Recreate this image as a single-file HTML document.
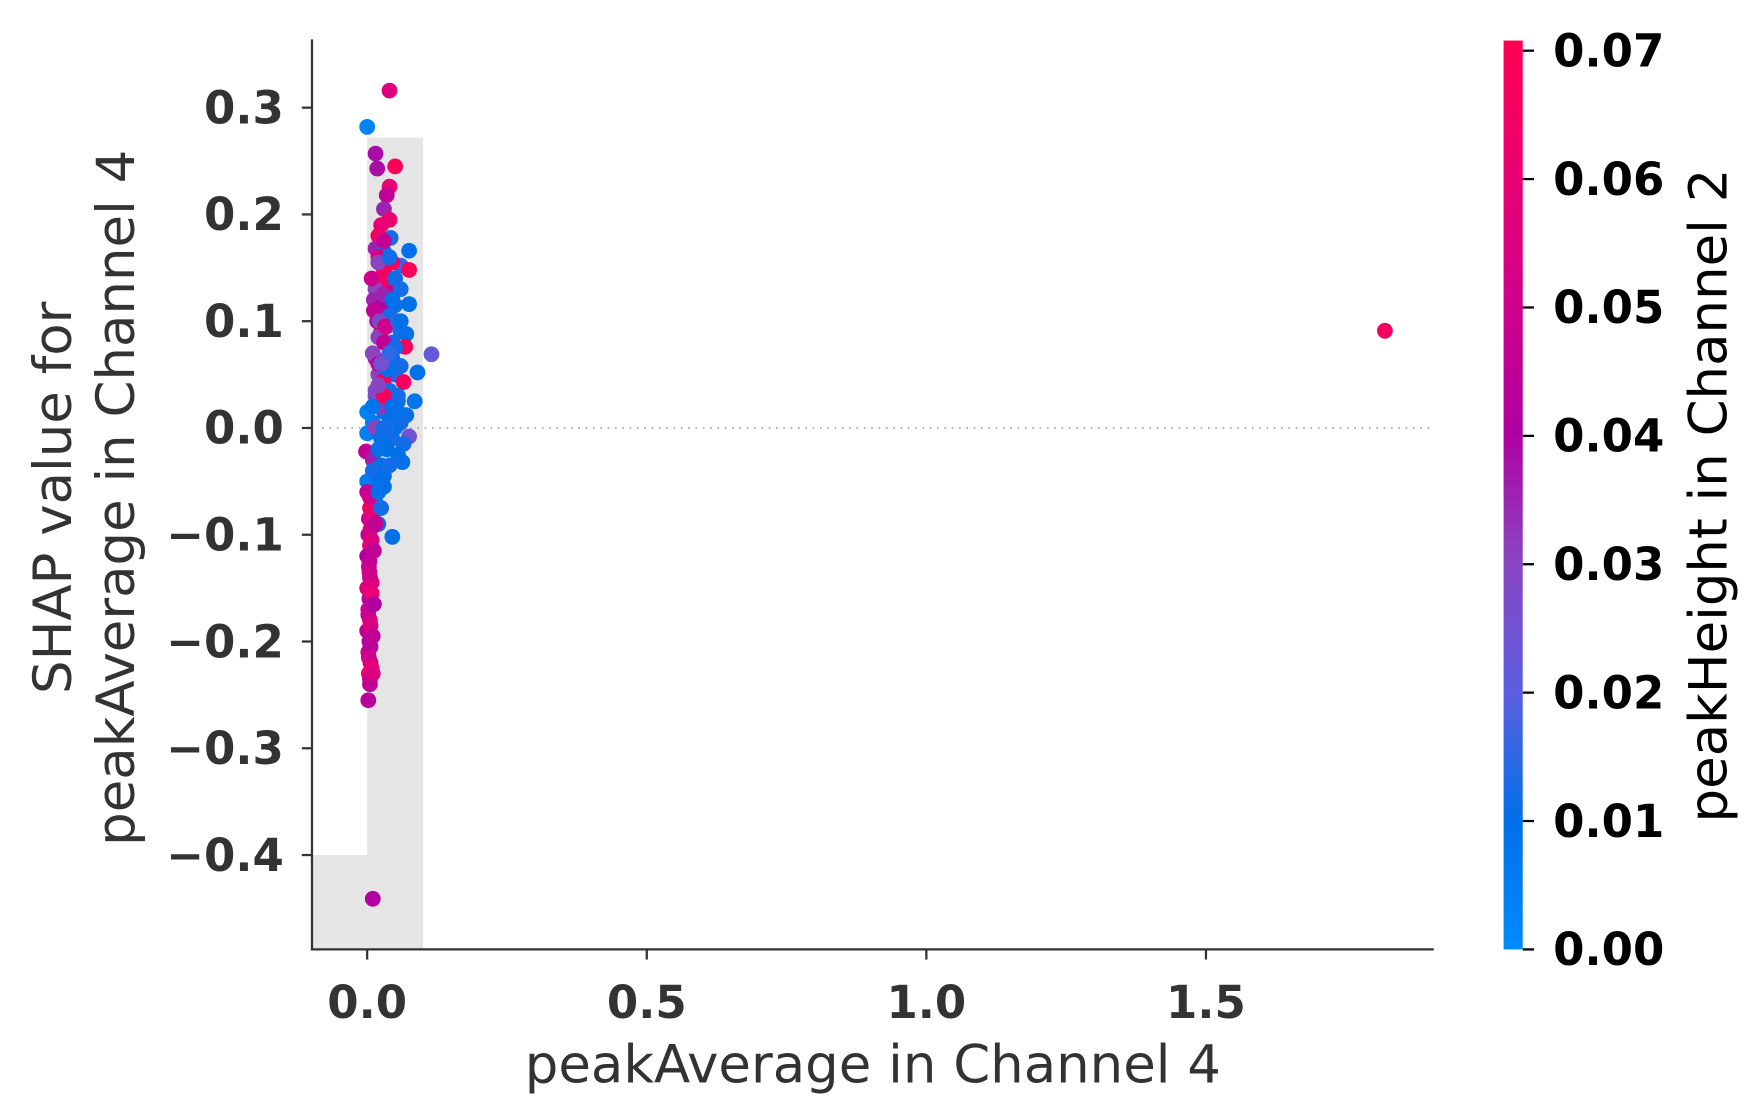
<!DOCTYPE html>
<html><head><meta charset="utf-8"><style>
html,body{margin:0;padding:0;background:#fff;}
svg{display:block;font-family:"DejaVu Sans","Liberation Sans",sans-serif;}
</style></head><body>
<svg id="chart" width="1757" height="1117" viewBox="0 0 1560 991.8" preserveAspectRatio="none" xmlns="http://www.w3.org/2000/svg">
<defs>
<linearGradient id="cmap" x1="0" y1="1" x2="0" y2="0">
<stop offset="0" stop-color="#008bfb"/>
<stop offset="0.14" stop-color="#0070e8"/>
<stop offset="0.28" stop-color="#5a5fe0"/>
<stop offset="0.43" stop-color="#8a44c0"/>
<stop offset="0.57" stop-color="#b000a0"/>
<stop offset="0.71" stop-color="#d0008c"/>
<stop offset="0.86" stop-color="#ea0070"/>
<stop offset="1" stop-color="#ff0052"/>
</linearGradient>
</defs>
<g id="hist"></g>
<line x1="286" y1="380" x2="1273" y2="380" stroke="#999" stroke-width="1.3" stroke-dasharray="1.5,5"/>
<g id="points"></g>
<line x1="277" y1="35" x2="277" y2="844" stroke="#333" stroke-width="2"/>
<line x1="276" y1="843" x2="1273" y2="843" stroke="#333" stroke-width="2"/>
<g id="xticks"></g>
<g id="yticks"></g>
<text x="775" y="961" text-anchor="middle" font-size="47" fill="#333">peakAverage in Channel 4</text>
<text transform="translate(63,442) rotate(-90)" text-anchor="middle" font-size="47" fill="#333">SHAP value for</text>
<text transform="translate(119,442) rotate(-90)" text-anchor="middle" font-size="47" fill="#333">peakAverage in Channel 4</text>
<rect x="1335" y="36" width="17" height="807" fill="url(#cmap)"/>
<g id="cticks"></g>
<text transform="translate(1533,440) rotate(-90)" text-anchor="middle" font-size="47" fill="#000">peakHeight in Channel 2</text>
</svg>
<script>
const xTicks=[0.0,0.5,1.0,1.5];
const xTickLabels=["0.0","0.5","1.0","1.5"];
const yTicks=[0.3,0.2,0.1,0.0,-0.1,-0.2,-0.3,-0.4];
const yTickLabels=["0.3","0.2","0.1","0.0","\u22120.1","\u22120.2","\u22120.3","\u22120.4"];
const cTicks=[0,0.01,0.02,0.03,0.04,0.05,0.06,0.07];
const cTickLabels=["0.00","0.01","0.02","0.03","0.04","0.05","0.06","0.07"];
const histEdges=[-0.1,0.0,0.1];
const histHeights=[-0.4,0.272];
const ptX=[0.04,0.0,0.015,0.018,0.05,0.04,0.035,0.03,0.04,0.042,0.02,0.015,0.03,0.075,0.06,0.045,0.03,0.075,0.02,0.015,0.04,0.06,0.05,0.075,0.025,0.04,0.035,0.06,0.07,0.025,0.02,0.045,0.068,0.03,0.115,0.045,0.015,0.035,0.06,0.09,0.02,0.05,0.03,0.065,0.025,0.04,0.015,0.055,0.085,0.0,0.03,0.05,0.07,0.01,0.04,0.06,0.0,0.02,0.045,0.075,0.065,0.035,0.055,0.063,-0.002,0.01,0.025,0.0,0.02,0.03,0.0,0.01,0.015,0.005,0.02,0.045,0.003,0.002,0.005,0.0,0.003,0.005,0.0,0.004,0.002,0.005,0.0,0.004,0.002,0.006,0.003,0.005,0.002,0.01,0.012,0.018,0.01,0.02,0.015,0.025,0.012,0.008,0.03,0.02,0.01,0.006,0.004,0.008,0.002,0.006,1.82,
0.025,0.03,0.035,0.02,0.028,0.04,0.022,0.032,0.05,0.055,0.045,0.06,0.05,0.04,0.035,0.055,0.03,0.045,0.02,0.025,0.01,0.015,0.03,0.04,0.05,0.06,0.025,0.035,0.045,0.055,0.01,0.02,0.03,0.04,0.005,0.01,0.015,0.02,0.025,0.008,0.012,0.004,0.008,0.012,0.006,0.01,0.003,0.008,0.005,0.01];
const ptY=[0.316,0.282,0.257,0.243,0.245,0.226,0.218,0.205,0.195,0.178,0.18,0.168,0.165,0.166,0.152,0.155,0.148,0.148,0.135,0.13,0.13,0.13,0.115,0.116,0.11,0.105,0.095,0.09,0.088,0.09,0.085,0.08,0.076,0.08,0.069,0.065,0.065,0.06,0.058,0.052,0.05,0.05,0.045,0.043,0.041,0.035,0.03,0.025,0.025,0.015,0.015,0.015,0.012,0.005,0.005,0.005,-0.005,-0.005,-0.01,-0.008,-0.015,-0.02,-0.025,-0.032,-0.022,-0.03,-0.035,-0.05,-0.05,-0.055,-0.06,-0.065,-0.07,-0.075,-0.09,-0.102,-0.085,-0.1,-0.11,-0.12,-0.13,-0.14,-0.15,-0.16,-0.17,-0.18,-0.19,-0.2,-0.21,-0.22,-0.23,-0.235,-0.255,-0.441,0.12,0.1,0.07,0.06,0.035,0.02,0.11,0.14,0.12,0.16,-0.08,-0.095,-0.125,-0.145,-0.175,-0.205,0.091,
0.19,0.175,0.14,0.155,0.125,0.16,0.1,0.095,0.14,0.1,0.12,0.1,0.075,0.07,0.055,0.03,0.03,0.02,0.04,0.06,0.02,0.0,0.0,-0.005,0.0,0.01,-0.01,0.0,0.02,0.015,-0.04,-0.02,-0.045,-0.035,-0.065,-0.08,-0.09,-0.06,-0.075,-0.105,-0.115,-0.135,-0.155,-0.165,-0.185,-0.195,-0.215,-0.225,-0.24,-0.23];
const ptC=[0.055,0.003,0.038,0.038,0.068,0.06,0.045,0.035,0.06,0.012,0.065,0.035,0.01,0.01,0.015,0.067,0.066,0.068,0.03,0.03,0.05,0.012,0.01,0.01,0.04,0.012,0.015,0.012,0.01,0.06,0.03,0.012,0.068,0.045,0.022,0.01,0.035,0.012,0.012,0.01,0.03,0.012,0.06,0.065,0.068,0.012,0.025,0.012,0.008,0.003,0.01,0.012,0.01,0.005,0.01,0.012,0.004,0.008,0.012,0.025,0.012,0.01,0.01,0.01,0.045,0.035,0.01,0.005,0.01,0.01,0.045,0.04,0.012,0.065,0.01,0.01,0.05,0.045,0.06,0.04,0.05,0.045,0.055,0.04,0.05,0.06,0.045,0.04,0.05,0.045,0.06,0.05,0.042,0.04,0.035,0.04,0.03,0.045,0.028,0.032,0.045,0.05,0.04,0.055,0.06,0.05,0.045,0.055,0.048,0.042,0.065,
0.06,0.045,0.065,0.03,0.035,0.012,0.028,0.05,0.012,0.015,0.01,0.01,0.012,0.015,0.01,0.012,0.066,0.01,0.03,0.025,0.008,0.03,0.01,0.012,0.01,0.012,0.01,0.012,0.01,0.01,0.012,0.01,0.01,0.012,0.05,0.06,0.045,0.01,0.012,0.055,0.045,0.05,0.06,0.04,0.055,0.045,0.05,0.06,0.045,0.055];

const NS="http://www.w3.org/2000/svg";
const X0=326, XU=496.5, Y0=380, YU=948;
function sx(v){return X0+v*XU;}
function sy(v){return Y0-v*YU;}
function sc(v){return 843-v/0.07*798;}
const stops=[[0,[0,139,251]],[0.14,[0,112,232]],[0.28,[90,95,224]],[0.43,[138,68,192]],[0.57,[176,0,160]],[0.71,[208,0,140]],[0.86,[234,0,112]],[1,[255,0,82]]];
function cmap(v){let t=Math.max(0,Math.min(1,v/0.07));for(let i=1;i<stops.length;i++){if(t<=stops[i][0]){const a=stops[i-1],b=stops[i];const f=(t-a[0])/(b[0]-a[0]);const c=a[1].map((q,k)=>Math.round(q+(b[1][k]-q)*f));return "rgb("+c.join(",")+")";}}return "rgb(255,0,82)";}
function mk(tag,attrs,parent){const e=document.createElementNS(NS,tag);for(const k in attrs)e.setAttribute(k,attrs[k]);parent.appendChild(e);return e;}

const hist=document.getElementById('hist');
for(let i=0;i<histHeights.length;i++){
  const r=mk('rect',{x:sx(histEdges[i]),y:sy(histHeights[i]),width:sx(histEdges[i+1])-sx(histEdges[i]),height:843-sy(histHeights[i]),fill:'#e5e5e5'},hist);
  
  
}
const pts=document.getElementById('points');
for(let i=0;i<ptX.length;i++){
  const c=mk('circle',{cx:sx(ptX[i]),cy:sy(ptY[i]),r:7,fill:cmap(ptC[i])},pts);
  
  
}
const xt=document.getElementById('xticks');
xTicks.forEach((v,i)=>{
  const l=mk('line',{x1:sx(v),x2:sx(v),y1:843,y2:852,stroke:'#333','stroke-width':2},xt);
  
  
  const t=mk('text',{x:sx(v),y:904,'text-anchor':'middle','font-size':40,'font-weight':'bold',fill:'#333'},xt);
  t.textContent=xTickLabels[i];
  
  
});
const yt=document.getElementById('yticks');
yTicks.forEach((v,i)=>{
  const l=mk('line',{x1:268,x2:277,y1:sy(v),y2:sy(v),stroke:'#333','stroke-width':2},yt);
  
  
  const t=mk('text',{x:252,y:sy(v)+14,'text-anchor':'end','font-size':40,'font-weight':'bold',fill:'#333'},yt);
  t.textContent=yTickLabels[i];
  
  
});
const ct=document.getElementById('cticks');
cTicks.forEach((v,i)=>{
  const l=mk('line',{x1:1352,x2:1362,y1:sc(v),y2:sc(v),stroke:'#000','stroke-width':2},ct);
  
  
  const t=mk('text',{x:1379,y:sc(v)+14,'text-anchor':'start','font-size':40,'font-weight':'bold',fill:'#000'},ct);
  t.textContent=cTickLabels[i];
  
  
});
</script>
</body></html>
